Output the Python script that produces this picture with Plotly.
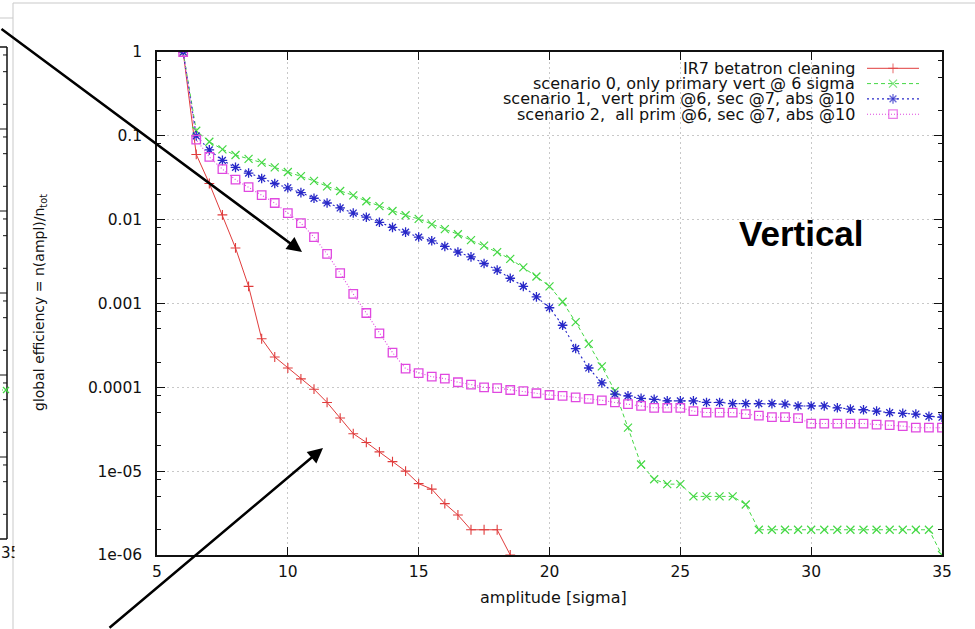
import plotly.graph_objects as go

# ---------------- data ----------------
x_red = [6, 6.5, 7, 7.5, 8, 8.5, 9, 9.5, 10, 10.5, 11, 11.5, 12, 12.5, 13, 13.5,
         14, 14.5, 15, 15.5, 16, 16.5, 17, 17.5, 18, 18.5]
y_red = [1, 0.06, 0.027, 0.0114, 0.0046, 0.0016, 3.8e-4, 2.3e-4, 1.7e-4, 1.26e-4,
         9.5e-5, 6.6e-5, 4.3e-5, 2.8e-5, 2.2e-5, 1.7e-5, 1.3e-5, 1.0e-5, 7.1e-6,
         6.1e-6, 4.1e-6, 3.0e-6, 2e-6, 2e-6, 2e-6, 1e-6]

x_scen = [6, 6.5, 7, 7.5, 8, 8.5, 9, 9.5, 10, 10.5, 11, 11.5, 12, 12.5, 13, 13.5,
          14, 14.5, 15, 15.5, 16, 16.5, 17, 17.5, 18, 18.5, 19, 19.5, 20, 20.5,
          21, 21.5, 22, 22.5, 23, 23.5, 24, 24.5, 25, 25.5, 26, 26.5, 27, 27.5,
          28, 28.5, 29, 29.5, 30, 30.5, 31, 31.5, 32, 32.5, 33, 33.5, 34, 34.5, 35]

y_green = [1, 0.115, 0.085, 0.069, 0.059, 0.053, 0.048, 0.042, 0.037, 0.033,
           0.029, 0.025, 0.022, 0.0195, 0.0166, 0.0145, 0.0127, 0.0113, 0.0102,
           0.0088, 0.0077, 0.0067, 0.0057, 0.0049, 0.0041, 0.0034, 0.0027, 0.0021,
           0.0016, 0.00105, 6.0e-4, 3.3e-4, 1.78e-4, 9e-5, 3.3e-5, 1.2e-5, 8e-6,
           7e-6, 7e-6, 5e-6, 5e-6, 5e-6, 5e-6, 4e-6, 2e-6, 2e-6, 2e-6, 2e-6, 2e-6,
           2e-6, 2e-6, 2e-6, 2e-6, 2e-6, 2e-6, 2e-6, 2e-6, 2e-6, 1e-6]

y_blue = [1, 0.1, 0.068, 0.051, 0.042, 0.036, 0.031, 0.027, 0.024, 0.021, 0.018,
          0.0158, 0.0138, 0.012, 0.0107, 0.0093, 0.0081, 0.0071, 0.0062, 0.0056,
          0.0048, 0.0041, 0.0036, 0.0030, 0.0025, 0.0020, 0.0016, 0.0012, 8.9e-4,
          5.5e-4, 2.9e-4, 1.7e-4, 1.13e-4, 8.3e-5, 7.9e-5, 7.4e-5, 7.2e-5, 6.9e-5,
          6.9e-5, 6.9e-5, 6.6e-5, 6.6e-5, 6.4e-5, 6.4e-5, 6.4e-5, 6.4e-5, 6.3e-5,
          6.0e-5, 6.0e-5, 6.0e-5, 5.7e-5, 5.5e-5, 5.4e-5, 5.2e-5, 5.0e-5, 4.9e-5,
          4.8e-5, 4.5e-5, 4.4e-5]

y_mag = [1, 0.09, 0.056, 0.040, 0.030, 0.0245, 0.0196, 0.0158, 0.012, 0.0091,
         0.0062, 0.0039, 0.0023, 0.0013, 7.7e-4, 4.4e-4, 2.6e-4, 1.67e-4, 1.48e-4,
         1.34e-4, 1.27e-4, 1.15e-4, 1.08e-4, 1.0e-4, 9.8e-5, 9.3e-5, 9.0e-5, 8.5e-5,
         8.1e-5, 7.9e-5, 7.6e-5, 7.3e-5, 7.0e-5, 6.6e-5, 6.3e-5, 6.0e-5, 5.7e-5,
         5.7e-5, 5.7e-5, 5.2e-5, 5.0e-5, 5.0e-5, 5.0e-5, 4.8e-5, 4.6e-5, 4.4e-5,
         4.4e-5, 4.3e-5, 3.7e-5, 3.7e-5, 3.7e-5, 3.7e-5, 3.7e-5, 3.6e-5, 3.55e-5,
         3.45e-5, 3.3e-5, 3.3e-5, 3.3e-5]

series_names = ["IR7 betatron cleaning",
                "scenario 0, only primary vert @ 6 sigma",
                "scenario 1,\u00a0 vert prim @6, sec @7, abs @10",
                "scenario 2,\u00a0 all prim @6, sec @7, abs @10"]

x_ticks = [5, 10, 15, 20, 25, 30, 35]
y_ticks = [1e-6, 1e-5, 1e-4, 1e-3, 1e-2, 1e-1, 1]
y_ticktext = ["1e-06", "1e-05", "0.0001", "0.001", "0.01", "0.1", "1"]
y_minor = [m * 10.0 ** d for d in range(-6, 0) for m in (2, 5, 8)]

# ---------------- styling ----------------
W, H = 975, 629
L, R, T, B = 157, 942, 52, 555
FONT = "DejaVu Sans"

RED, GREEN, BLUE, MAG = "#e03c3c", "#44d844", "#2828c8", "#e048e0"

styles = [
    dict(color=RED, dash="solid", symbol="cross-thin-open", size=7, lw=1.0, mlw=1.1),
    dict(color=GREEN, dash="4px,3px", symbol="x-thin-open", size=8, lw=1.0, mlw=1.2),
    dict(color=BLUE, dash="2px,3px", symbol="asterisk-open", size=8, lw=1.1, mlw=1.3),
    dict(color=MAG, dash="1px,2px", symbol="square-open", size=8.5, lw=1.1, mlw=1.3),
]


def pxx(p):
    return (p - L) / (R - L)


def pxy(p):
    return (B - p) / (B - T)


fig = go.Figure()

for xs, ys, st in zip([x_red, x_scen, x_scen, x_scen],
                      [y_red, y_green, y_blue, y_mag], styles):
    fig.add_trace(go.Scatter(
        x=xs, y=ys, mode="lines+markers",
        line=dict(color=st["color"], width=st["lw"], dash=st["dash"]),
        marker=dict(symbol=st["symbol"], size=st["size"], color=st["color"],
                    line=dict(color=st["color"], width=st["mlw"])),
        showlegend=False))

# ---------- custom gnuplot-style key (text right, sample on the right) ----------
key_rows = [68.3, 83.6, 98.9, 114.2]
for name, st, ry in zip(series_names, styles, key_rows):
    fig.add_trace(go.Scatter(
        x=[867, 893, 919], y=[ry, ry, ry], xaxis="x2", yaxis="y2",
        mode="lines+markers",
        line=dict(color=st["color"], width=st["lw"], dash=st["dash"]),
        marker=dict(symbol=st["symbol"], size=[0, st["size"], 0], color=st["color"],
                    line=dict(color=st["color"], width=st["mlw"])),
        showlegend=False))

annotations = []
for name, ry in zip(series_names, key_rows):
    annotations.append(dict(xref="paper", yref="paper", x=pxx(856), y=pxy(ry),
                            xanchor="right", yanchor="middle", text=name,
                            showarrow=False, borderpad=0,
                            font=dict(family=FONT, size=16, color="#111")))

# axis titles
annotations.append(dict(xref="paper", yref="paper", x=pxx(553), y=pxy(597),
                        xanchor="center", yanchor="middle", text="amplitude [sigma]",
                        showarrow=False, font=dict(family=FONT, size=16, color="#111")))
annotations.append(dict(xref="paper", yref="paper", x=pxx(40), y=pxy(303),
                        xanchor="center", yanchor="middle", textangle=-90,
                        text="global efficiency = n(ampl)/n<sub>tot</sub>",
                        showarrow=False, font=dict(family=FONT, size=14, color="#111")))

# "Vertical" label
annotations.append(dict(xref="paper", yref="paper", x=pxx(801), y=pxy(234),
                        xanchor="center", yanchor="middle", text="<b>Vertical</b>",
                        showarrow=False,
                        font=dict(family="Liberation Sans", size=35, color="#000")))

# arrows
annotations.append(dict(xref="paper", yref="paper", x=pxx(302), y=pxy(252),
                        ax=-304, ay=-224, text="", showarrow=True, arrowhead=2,
                        arrowsize=1.2, arrowwidth=2.5, arrowcolor="#000"))
annotations.append(dict(xref="paper", yref="paper", x=pxx(323), y=pxy(448),
                        ax=-215, ay=189, text="", showarrow=True, arrowhead=2,
                        arrowsize=1.2, arrowwidth=2.5, arrowcolor="#000"))

# cropped neighbouring panel at the far left: tick label "35"
annotations.append(dict(xref="paper", yref="paper", x=pxx(-1), y=pxy(553),
                        xanchor="left", yanchor="middle", text="35", showarrow=False,
                        font=dict(family=FONT, size=15, color="#111")))
annotations.append(dict(xref="paper", yref="paper", x=pxx(14), y=pxy(553),
                        xanchor="left", yanchor="middle", text=" ", showarrow=False,
                        bgcolor="#ffffff", width=10, height=22,
                        font=dict(size=10)))

shapes = []
# opaque key background (hides the grid under the key)
shapes.append(dict(type="rect", xref="paper", yref="paper", layer="between",
                   x0=pxx(405), x1=pxx(941), y0=pxy(124), y1=pxy(53),
                   fillcolor="#ffffff", line=dict(width=0)))

# slide frame lines (light grey)
GREY = "#c9c9c9"
shapes.append(dict(type="line", xref="paper", yref="paper", x0=pxx(13), x1=pxx(13),
                   y0=pxy(3), y1=pxy(640), line=dict(color=GREY, width=1)))
shapes.append(dict(type="line", xref="paper", yref="paper", x0=pxx(13), x1=pxx(980),
                   y0=pxy(3), y1=pxy(3), line=dict(color=GREY, width=1)))
shapes.append(dict(type="line", xref="paper", yref="paper", x0=pxx(-5), x1=pxx(13),
                   y0=pxy(18), y1=pxy(18), line=dict(color=GREY, width=1)))

# neighbouring panel frame fragment
BLK = dict(color="#111", width=1.5)
shapes.append(dict(type="line", xref="paper", yref="paper", x0=pxx(7), x1=pxx(7),
                   y0=pxy(47), y1=pxy(539), line=BLK))
shapes.append(dict(type="line", xref="paper", yref="paper", x0=pxx(-5), x1=pxx(7),
                   y0=pxy(47), y1=pxy(47), line=BLK))
shapes.append(dict(type="line", xref="paper", yref="paper", x0=pxx(-5), x1=pxx(7),
                   y0=pxy(539), y1=pxy(539), line=BLK))
for k in range(1, 6):
    yy = 47 + 82 * k
    shapes.append(dict(type="line", xref="paper", yref="paper", x0=pxx(0), x1=pxx(7),
                       y0=pxy(yy), y1=pxy(yy), line=dict(color="#111", width=1)))
for k in range(6):
    for off in (0.301, 0.699, 0.097):
        yy = 47 + 82 * k + 82 * off
        shapes.append(dict(type="line", xref="paper", yref="paper", x0=pxx(3),
                           x1=pxx(7), y0=pxy(yy), y1=pxy(yy),
                           line=dict(color="#111", width=1)))
# small green mark + dashed segment of the neighbouring panel
shapes.append(dict(type="line", xref="paper", yref="paper", x0=pxx(-3), x1=pxx(3),
                   y0=pxy(390), y1=pxy(390),
                   line=dict(color=GREEN, width=1, dash="3px,2px")))
shapes.append(dict(type="line", xref="paper", yref="paper", x0=pxx(3), x1=pxx(9),
                   y0=pxy(387), y1=pxy(393), line=dict(color=GREEN, width=1.2)))
shapes.append(dict(type="line", xref="paper", yref="paper", x0=pxx(3), x1=pxx(9),
                   y0=pxy(393), y1=pxy(387), line=dict(color=GREEN, width=1.2)))

fig.update_layout(
    width=W, height=H,
    margin=dict(l=L, r=W - R, t=T, b=H - B, pad=0),
    paper_bgcolor="#ffffff", plot_bgcolor="#ffffff",
    showlegend=False,
    xaxis=dict(range=[5, 35], tickmode="array", tickvals=x_ticks,
               ticks="inside", ticklen=8, tickwidth=1, tickcolor="#111",
               showline=True, linecolor="#111", linewidth=1.5, mirror="ticks",
               showgrid=True, gridcolor="#c8c8c8", griddash="2px,3px", gridwidth=1,
               zeroline=False, ticklabelstandoff=2,
               tickfont=dict(family=FONT, size=15.5, color="#111")),
    yaxis=dict(type="log", range=[-6, 0], tickmode="array", tickvals=y_ticks,
               ticktext=y_ticktext, ticks="inside", ticklen=8, tickwidth=1,
               tickcolor="#111", showline=True, linecolor="#111", linewidth=1.5,
               mirror="ticks", showgrid=True, gridcolor="#c8c8c8",
               griddash="2px,3px", gridwidth=1, zeroline=False,
               ticklabelstandoff=10,
               minor=dict(tickmode="array", tickvals=y_minor, ticks="inside",
                          ticklen=4, tickwidth=1, tickcolor="#111", showgrid=False),
               tickfont=dict(family=FONT, size=15.5, color="#111")),
    xaxis2=dict(range=[L, R], overlaying="x", anchor="y2", visible=False),
    yaxis2=dict(range=[B, T], overlaying="y", anchor="x2", visible=False),
    annotations=annotations,
    shapes=shapes,
)

fig.write_html("out.html")
